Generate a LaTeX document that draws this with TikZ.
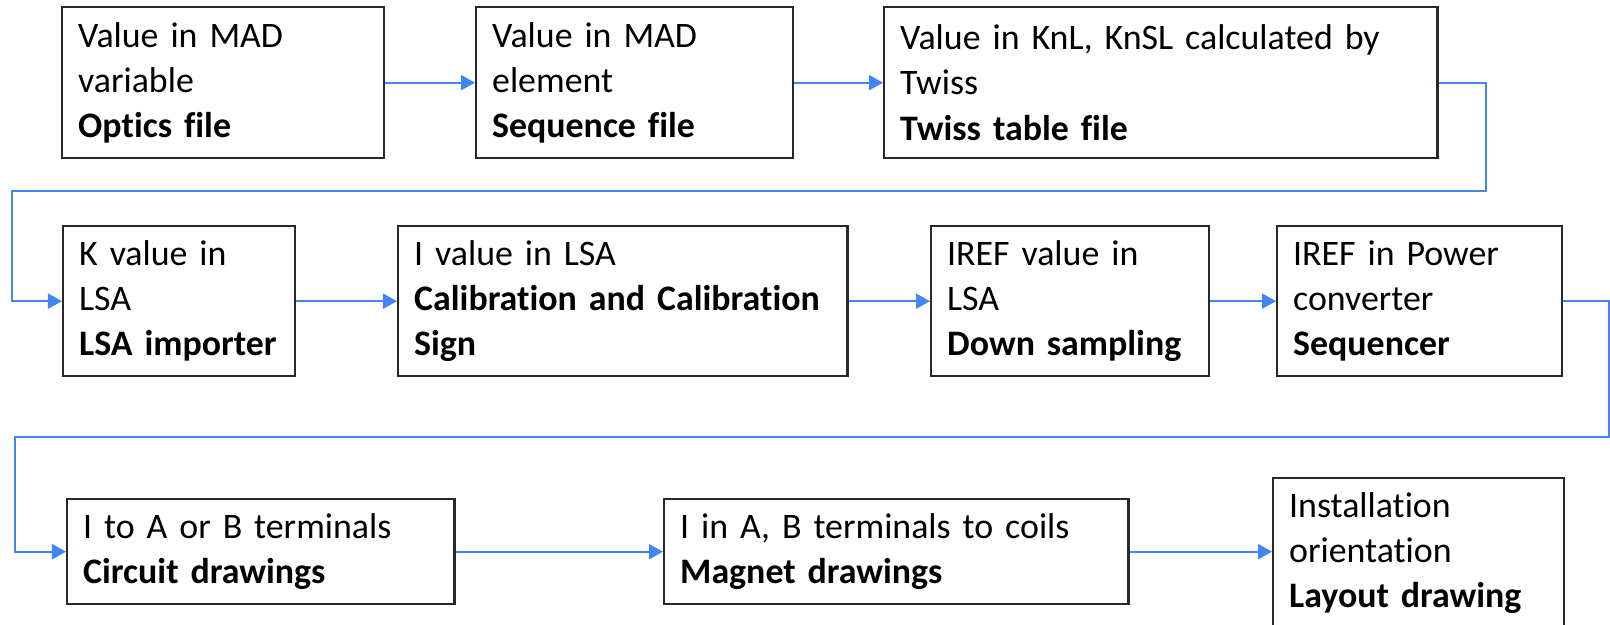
\documentclass[tikz,border=0pt]{standalone}
\usepackage{fontspec}
\setmainfont{Carlito}[Ligatures=NoCommon]
\usetikzlibrary{arrows.meta}
\definecolor{flowBlue}{RGB}{66,133,244}
\definecolor{boxGray}{RGB}{40,40,40}

\begin{document}
\begin{tikzpicture}[x=0.01cm,y=-0.01cm]

\tikzset{>={Triangle[length=0.14cm,width=0.15cm]}}
\tikzset{box/.style={draw=boxGray, line width=0.65pt, anchor=north west,
    inner xsep=0.16cm, inner ysep=0pt, align=left,
    font=\fontsize{10.2}{12.8}\selectfont\hyphenpenalty10000\relax}}
\tikzset{flow/.style={->, draw=flowBlue, line width=0.6pt}}
\def\rowA{6}
\def\rowB{225}
\def\rowC{498}

\useasboundingbox (0,0) rectangle (1610,625);

\draw (61,\rowA) node[box, text width=2.90cm, minimum height=1.51cm](optics)
    {Value in MAD\\variable\\\textbf{Optics file}};
\draw (475,\rowA) node[box, text width=2.85cm, minimum height=1.51cm](seq)
    {Value in MAD\\element\\\textbf{Sequence file}};
\draw (883,\rowA) node[box, text width=5.21cm, minimum height=1.51cm](twiss)
    {Value in KnL, KnSL calculated by\\Twiss\\\textbf{Twiss table file}};

\draw (62,\rowB) node[box, text width=2.00cm, minimum height=1.50cm](lsaImp)
    {K value in\\LSA\\\textbf{LSA importer}};
\draw (397,\rowB) node[box, text width=4.17cm, minimum height=1.50cm](calib)
    {I value in LSA\\\textbf{Calibration and Calibration}\\\textbf{Sign}};
\draw (930,\rowB) node[box, text width=2.46cm, minimum height=1.50cm](downSamp)
    {IREF value in\\LSA\\\textbf{Down sampling}};
\draw (1276,\rowB) node[box, text width=2.53cm, minimum height=1.50cm](sequencer)
    {IREF in Power\\converter\\\textbf{Sequencer}};

\draw (66,\rowC) node[box, text width=3.55cm, minimum height=1.05cm](circuit)
    {I to A or B terminals\\\textbf{Circuit drawings}};
\draw (663,\rowC) node[box, text width=4.32cm, minimum height=1.05cm](magnet)
    {I in A, B terminals to coils\\\textbf{Magnet drawings}};
\draw (1272,477) node[box, text width=2.59cm, minimum height=1.50cm](layout)
    {Installation\\orientation\\\textbf{Layout drawing}};

\coordinate (turnA) at (1486,191);
\coordinate (turnB) at (12,191);
\coordinate (turnC) at (1609,437);
\coordinate (turnD) at (15,437);

\draw[flow] (optics) -- (seq);
\draw[flow] (seq) -- (twiss);
\draw[flow] (twiss.east) -| (turnA) -- (turnB) |- (lsaImp.west);

\draw[flow] (lsaImp) -- (calib);
\draw[flow] (calib) -- (downSamp);
\draw[flow] (downSamp) -- (sequencer);
\draw[flow] (sequencer.east) -| (turnC) -- (turnD) |- (circuit.west);

\draw[flow] (circuit) -- (magnet);
\draw[flow] (magnet.east) -- (magnet.east -| layout.west);

\end{tikzpicture}
\end{document}
